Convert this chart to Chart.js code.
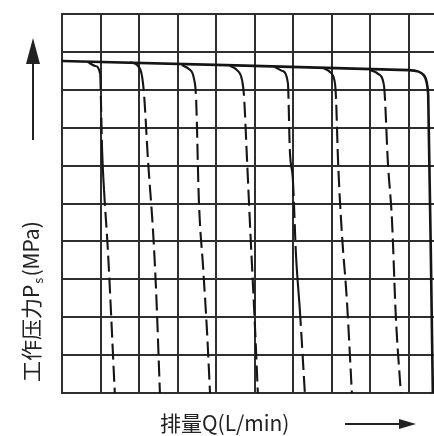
<!DOCTYPE html>
<html>
<head>
<meta charset="utf-8">
<script src="https://cdn.jsdelivr.net/npm/chart.js@4"></script>
<style>
  html, body { margin: 0; padding: 0; background: #fff; }
</style>
</head>
<body>
<canvas id="chart" width="434" height="436"></canvas>
<script>
// --- 数据 ---
const qTicks = [0, 1, 2, 3, 4, 5, 6, 7, 8, 9];
const pTicks = [0, 1, 2, 3, 4, 5, 6, 7, 8, 9, 10];

// 主曲线（最大排量）
const mainQ = [0, 9.0, 9.25, 9.39, 9.46, 9.5, 9.62];
const mainP = [8.76, 8.52, 8.48, 8.38, 8.2, 7.85, 0];

// 各调节排量下的分支曲线
const branchQ = [
  [0.67, 0.86, 0.99, 1.01, 1.04, 1.09, 1.19, 1.37],
  [1.76, 1.97, 2.07, 2.13, 2.23, 2.36, 2.44, 2.54],
  [3.11, 3.29, 3.42, 3.48, 3.55, 3.66, 3.76, 3.84],
  [4.36, 4.54, 4.67, 4.72, 4.80, 4.88, 5.01, 5.08],
  [5.52, 5.71, 5.86, 5.91, 5.99, 6.07, 6.17, 6.30],
  [6.77, 6.95, 7.08, 7.11, 7.16, 7.26, 7.39, 7.52],
  [7.99, 8.20, 8.35, 8.38, 8.45, 8.56, 8.66, 8.79]
];
const branchP = [
  [8.73, 8.63, 8.42, 7.73, 6.41, 5.36, 3.77, 0],
  [8.73, 8.63, 8.39, 7.86, 6.15, 4.30, 2.72, 0],
  [8.65, 8.55, 8.31, 7.73, 5.09, 3.32, 1.66, 0],
  [8.63, 8.52, 8.26, 7.86, 6.15, 4.38, 1.66, 0],
  [8.60, 8.50, 8.18, 6.41, 5.62, 3.64, 2.19, 0],
  [8.58, 8.47, 8.18, 7.73, 6.15, 4.22, 2.45, 0],
  [8.52, 8.42, 8.13, 7.73, 6.15, 4.56, 2.01, 0]
];
// 实线段的序号，其余为虚线
const solidSegs = [[0, 1, 4], [0, 1], [0, 1], [0, 1], [0, 1, 3, 5], [0, 1], [0, 1]];

const xTitle = '排量Q(L/min)';
const yTitle = ['工作压力P', 's', '(MPa)'];

const INK = '#151515';
const GRID = '#2e2e2e';
const FONT = '"Noto Sans CJK SC", "Noto Sans", sans-serif';

function toPoints(qs, ps) {
  return qs.map((q, i) => ({ x: q, y: ps[i] }));
}

const datasets = [{
  data: toPoints(mainQ, mainP),
  borderColor: INK,
  borderWidth: 2.6,
  tension: 0.35
}];

branchQ.forEach((qs, i) => {
  const solid = solidSegs[i];
  datasets.push({
    data: toPoints(qs, branchP[i]),
    borderColor: INK,
    borderWidth: 2.1,
    cubicInterpolationMode: 'monotone',
    segment: {
      borderDash: ctx => solid.includes(ctx.p0DataIndex) ? [] : [16, 6]
    }
  });
});

// --- 坐标轴标题和箭头 ---
const labelsPlugin = {
  id: 'axisLabels',
  afterDraw(chart) {
    const ctx = chart.ctx;
    ctx.save();
    ctx.fillStyle = '#222';
    ctx.strokeStyle = '#222';

    // x 轴标题
    ctx.font = '21px ' + FONT;
    ctx.textBaseline = 'middle';
    ctx.textAlign = 'left';
    ctx.fillText(xTitle, 160, 423);

    // x 方向箭头
    ctx.lineWidth = 2;
    ctx.beginPath();
    ctx.moveTo(345, 424);
    ctx.lineTo(402, 424);
    ctx.stroke();
    ctx.beginPath();
    ctx.moveTo(416, 424);
    ctx.lineTo(399, 419);
    ctx.lineTo(399, 429);
    ctx.closePath();
    ctx.fill();

    // y 轴标题（竖排旋转）
    ctx.translate(31, 382);
    ctx.rotate(-Math.PI / 2);
    ctx.textAlign = 'left';
    ctx.font = '21px ' + FONT;
    let w = 0;
    ctx.fillText(yTitle[0], w, 0);
    w += ctx.measureText(yTitle[0]).width;
    ctx.font = '13px ' + FONT;
    ctx.fillText(yTitle[1], w + 1, 7);
    w += ctx.measureText(yTitle[1]).width + 2;
    ctx.font = '21px ' + FONT;
    ctx.fillText(yTitle[2], w, 0);
    ctx.restore();

    // y 方向箭头
    ctx.save();
    ctx.fillStyle = '#222';
    ctx.strokeStyle = '#222';
    ctx.lineWidth = 2;
    ctx.beginPath();
    ctx.moveTo(33, 140);
    ctx.lineTo(33, 60);
    ctx.stroke();
    ctx.beginPath();
    ctx.moveTo(33, 38);
    ctx.lineTo(26, 64);
    ctx.lineTo(40, 64);
    ctx.closePath();
    ctx.fill();
    ctx.restore();
  }
};

new Chart(document.getElementById('chart'), {
  type: 'line',
  data: { datasets },
  options: {
    responsive: false,
    animation: false,
    layout: { padding: { left: 62, top: 14, right: 0, bottom: 43 } },
    elements: { point: { radius: 0 } },
    plugins: { legend: { display: false }, tooltip: { enabled: false } },
    scales: {
      x: {
        type: 'linear',
        min: 0,
        max: 9.65,
        afterBuildTicks: scale => { scale.ticks = qTicks.map(v => ({ value: v })); },
        ticks: { display: false },
        grid: { color: GRID, lineWidth: 2, drawTicks: false },
        border: { display: true, color: GRID, width: 2 }
      },
      y: {
        type: 'linear',
        min: 0,
        max: 10,
        afterBuildTicks: scale => { scale.ticks = pTicks.map(v => ({ value: v })); },
        ticks: { display: false },
        grid: { color: GRID, lineWidth: 2, drawTicks: false },
        border: { display: true, color: GRID, width: 2 }
      }
    }
  },
  plugins: [labelsPlugin]
});
</script>
</body>
</html>
